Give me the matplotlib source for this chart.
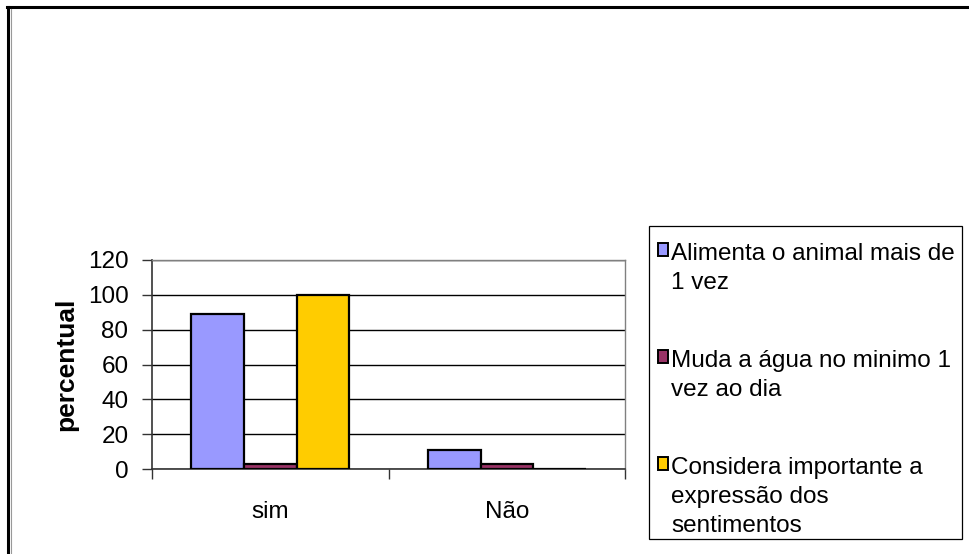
import matplotlib.pyplot as plt
from matplotlib.lines import Line2D
from matplotlib.patches import Patch, Rectangle
import numpy as np

plt.rcParams['font.family'] = ['Liberation Sans', 'DejaVu Sans']

# dados
categorias = ['sim', 'Não']
alimenta = [89, 11]
muda_agua = [3, 3]
considera = [100, 0]
series = ['Alimenta o animal mais de\n1 vez',
          'Muda a água no minimo 1\nvez ao dia',
          'Considera importante a\nexpressão dos\nsentimentos']
cores = ['#9999FF', '#993366', '#FFCC00']
yticks = [0, 20, 40, 60, 80, 100, 120]

W, H = 970, 554
fs = 17.5
fig = plt.figure(figsize=(W / 100, H / 100), dpi=100)
ax = fig.add_axes([152 / W, (H - 469) / H, (625.5 - 152) / W, (469 - 260) / H])

x = np.arange(len(categorias))
w = 1 / 4.5
for i, (vals, cor) in enumerate(zip([alimenta, muda_agua, considera], cores)):
    ax.bar(x + (i - 1) * w, vals, w, color=cor, edgecolor='black',
           linewidth=1.6, zorder=3, label=series[i])

ax.set_ylim(0, 120)
ax.set_xlim(-0.5, 1.5)
ax.set_yticks(yticks)
ax.yaxis.grid(True, color='black', linewidth=1.0, zorder=0)
ax.tick_params(axis='y', labelsize=fs, length=7, width=1, color='#333333', pad=10)
ax.set_xticks(x)
ax.set_xticklabels(categorias)
ax.set_xticks([-0.5, 0.5, 1.5], minor=True)
ax.tick_params(axis='x', which='major', labelsize=fs, length=0, pad=23)
ax.tick_params(axis='x', which='minor', length=7, width=1, color='#333333')
for s in ['top', 'right']:
    ax.spines[s].set_color('#808080')
    ax.spines[s].set_linewidth(1)
for s in ['left', 'bottom']:
    ax.spines[s].set_color('#333333')
    ax.spines[s].set_linewidth(1.2)
ax.set_ylabel('percentual', fontsize=19, fontweight='bold', labelpad=7)

# legenda
handles = [Patch(facecolor=c, edgecolor='black', linewidth=1.4) for c in cores]
leg = fig.legend(handles, series, loc='upper left',
                 bbox_to_anchor=(649 / W, 1 - 234 / H), bbox_transform=fig.transFigure,
                 borderaxespad=0, frameon=False,
                 fontsize=fs, handlelength=0.45, handleheight=0.45,
                 handletextpad=0.12, borderpad=0.35, labelspacing=2.3)
for t in leg.get_texts():
    t.set_linespacing(1.42)
for col in leg._legend_handle_box.get_children():
    for item in col.get_children():
        item.align = 'top'
fig.add_artist(Rectangle((649 / W, 1 - 539 / H), (962 - 649) / W, (539 - 226) / H,
                         transform=fig.transFigure, fill=False, edgecolor='black', lw=0.9))

# moldura externa
fig.add_artist(Line2D([7 / W, 1], [1 - 7 / H, 1 - 7 / H], color='black', lw=2.2,
                      transform=fig.transFigure))
fig.add_artist(Line2D([8 / W, 8 / W], [0, 1 - 7 / H], color='black', lw=2.2,
                      transform=fig.transFigure))
fig.add_artist(Line2D([10.8 / W, 10.8 / W], [0, 1 - 9 / H], color='#999999', lw=0.8,
                      transform=fig.transFigure))

plt.savefig('out.png', dpi=100)
